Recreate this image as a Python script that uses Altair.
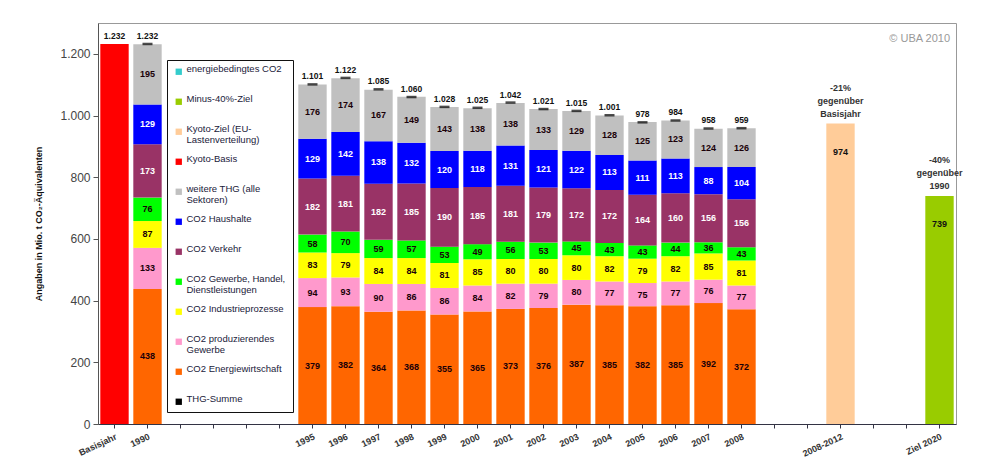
import altair as alt
import pandas as pd

# ---------------- data ----------------
categories = ["Basisjahr", "1990", " ", "  ", "   ", "    ",
              "1995", "1996", "1997", "1998", "1999", "2000", "2001",
              "2002", "2003", "2004", "2005", "2006", "2007", "2008",
              "     ", "      ", "2008-2012", "       ", "        ", "Ziel 2020"]

years = ["1990", "1995", "1996", "1997", "1998", "1999", "2000", "2001",
         "2002", "2003", "2004", "2005", "2006", "2007", "2008"]
energie = [438, 379, 382, 364, 368, 355, 365, 373, 376, 387, 385, 382, 385, 392, 372]
produzierend = [133, 94, 93, 90, 86, 86, 84, 82, 79, 80, 77, 75, 77, 76, 77]
industrie = [87, 83, 79, 84, 84, 81, 85, 80, 80, 80, 82, 79, 82, 85, 81]
gewerbe = [76, 58, 70, 59, 57, 53, 49, 56, 53, 45, 43, 43, 44, 36, 43]
verkehr = [173, 182, 181, 182, 185, 190, 185, 181, 179, 172, 172, 164, 160, 156, 156]
haushalte = [129, 129, 142, 138, 132, 120, 118, 131, 121, 122, 113, 111, 113, 88, 104]
weitere = [195, 176, 174, 167, 149, 143, 138, 138, 133, 129, 128, 125, 123, 124, 126]
thg_summe = [1232, 1101, 1122, 1085, 1060, 1028, 1025, 1042, 1021, 1015, 1001, 978, 984, 958, 959]

target_cats = ["Basisjahr", "2008-2012", "Ziel 2020"]
target_series = ["Kyoto-Basis", "Kyoto-Ziel (EU-|Lastenverteilung)", "Minus-40%-Ziel"]
target_values = [1232, 974, 739]
note_cats = ["2008-2012", "2008-2012", "2008-2012", "Ziel 2020", "Ziel 2020", "Ziel 2020"]
note_lines = ["-21%", "gegenüber", "Basisjahr", "-40%", "gegenüber", "1990"]
note_row = [2, 1, 0, 2, 1, 0]
note_base = [974, 974, 974, 739, 739, 739]

legend_names = ["energiebedingtes CO2", "Minus-40%-Ziel",
                "Kyoto-Ziel (EU-|Lastenverteilung)", "Kyoto-Basis",
                "weitere THG (alle|Sektoren)", "CO2 Haushalte", "CO2 Verkehr",
                "CO2 Gewerbe, Handel,|Dienstleistungen", "CO2 Industrieprozesse",
                "CO2 produzierendes|Gewerbe", "CO2 Energiewirtschaft", "THG-Summe"]
legend_colors = ["#33CCCC", "#99CC00", "#FFCC99", "#FF0000", "#C0C0C0", "#0000FF",
                 "#993366", "#00FF00", "#FFFF00", "#FF99CC", "#FF6600", "#000000"]

stack_series = ["CO2 Energiewirtschaft", "CO2 produzierendes|Gewerbe",
                "CO2 Industrieprozesse", "CO2 Gewerbe, Handel,|Dienstleistungen",
                "CO2 Verkehr", "CO2 Haushalte", "weitere THG (alle|Sektoren)"]
stack_values = [energie, produzierend, industrie, gewerbe, verkehr, haushalte, weitere]
light_text = [0, 0, 0, 0, 1, 1, 0]

# ---------------- tables ----------------
rows = []
for i, yr in enumerate(years):
    base = 0
    for s, vals, lt in zip(stack_series, stack_values, light_text):
        v = vals[i]
        rows.append({"cat": yr, "series": s, "y0": base, "y1": base + v,
                     "mid": base + v / 2, "value": v, "light": lt})
        base += v
for c, s, v in zip(target_cats, target_series, target_values):
    rows.append({"cat": c, "series": s, "y0": 0, "y1": v, "mid": v, "value": v, "light": 0})
bars_df = pd.DataFrame(rows)
seg_df = bars_df[bars_df["series"].isin(stack_series)]
seg_dark = seg_df[seg_df["light"] == 0].reset_index(drop=True)
seg_light = seg_df[seg_df["light"] == 1].reset_index(drop=True)

def de_fmt(v):
    return f"{v:,}".replace(",", ".")

tot_df = pd.DataFrame({"cat": years, "total": thg_summe})
lbl_df = pd.DataFrame({"cat": ["Basisjahr"] + years,
                       "total": [target_values[0]] + thg_summe,
                       "lbl": [de_fmt(target_values[0])] + [de_fmt(v) for v in thg_summe]})
tgt_df = pd.DataFrame({"cat": target_cats[1:], "val": target_values[1:]})
note_df = pd.DataFrame({"cat": note_cats, "line": note_lines, "row": note_row, "base": note_base})

FONT = "Liberation Sans"

x_enc = alt.X("cat:N",
              scale=alt.Scale(domain=categories, paddingInner=0.14, paddingOuter=0.07),
              axis=alt.Axis(title=None,
                            labelAngle=-25, labelAlign="right", labelBaseline="top",
                            labelFontSize=9, labelFontWeight="bold", labelColor="#333",
                            labelPadding=4, tickSize=4,
                            domainColor="#334", tickColor="#334", labelOverlap=False))
y_scale = alt.Scale(domain=[0, 1300], nice=False)
y_enc = alt.Y("y1:Q", scale=y_scale,
              axis=alt.Axis(title="Angaben in Mio. t CO₂-Äquivalenten",
                            tickCount=7, format=",d",
                            labelFontSize=12, labelColor="#444", grid=False, tickSize=5,
                            labelPadding=3, domainColor="#555", tickColor="#555",
                            titleFontSize=9, titleFontWeight="bold", titleColor="#111",
                            titlePadding=16))

legend = alt.Legend(title=None, orient="none", legendX=69, legendY=37, direction="vertical",
                    fillColor="white", strokeColor="#111", padding=7, symbolSize=40,
                    symbolType="square", labelFontSize=9.5, labelFont=FONT, labelColor="#1a1a3a",
                    labelLimit=140, labelExpr="split(datum.label, '|')",
                    labelBaseline="alphabetic", rowPadding=8, gridAlign="all",
                    labelOffset=3, symbolStrokeWidth=0)

bars = alt.Chart(bars_df).mark_bar().encode(
    x=x_enc, y=y_enc, y2="y0:Q",
    color=alt.Color("series:N", scale=alt.Scale(domain=legend_names, range=legend_colors),
                    legend=legend))

seg_text_dark = alt.Chart(seg_dark).mark_text(fontWeight="bold", fontSize=9, font=FONT,
                                              color="#1a0008").encode(
    x="cat:N", y="mid:Q", text="value:Q")
seg_text_light = alt.Chart(seg_light).mark_text(fontWeight="bold", fontSize=9, font=FONT,
                                                color="#FFFFFF").encode(
    x="cat:N", y="mid:Q", text="value:Q")

marks = alt.Chart(tot_df).mark_tick(color="black", thickness=2.5, size=10).encode(
    x="cat:N", y="total:Q")

tot_text = alt.Chart(lbl_df).mark_text(
    fontWeight="bold", fontSize=8.5, font=FONT, baseline="bottom", dy=-3, color="#111").encode(
    x="cat:N", y="total:Q", text="lbl:N")

tgt_val = alt.Chart(tgt_df).mark_text(fontWeight="bold", fontSize=9, font=FONT,
                                      baseline="middle", dy=28, color="#111").encode(
    x="cat:N", y="val:Q", text="val:Q")

note_layers = []
for r in [0, 1, 2]:
    note_layers.append(
        alt.Chart(note_df[note_df["row"] == r].reset_index(drop=True)).mark_text(
            fontWeight="bold", fontSize=9, font=FONT, baseline="bottom",
            dy=-5 - 13 * r, color="#333").encode(
            x="cat:N", y="base:Q", text="line:N"))

chart = alt.layer(bars, seg_text_dark, seg_text_light, marks, tot_text, tgt_val,
                  *note_layers).properties(
    width=858, height=401,
    padding={"left": 90, "top": 15, "right": 20, "bottom": 40},
    autosize=alt.AutoSizeParams(type="none"),
    title=alt.TitleParams("© UBA 2010", anchor="end", frame="group", offset=-21, dx=-6,
                          fontSize=11, fontWeight="normal", color="#999", font=FONT),
).configure(font=FONT).configure_view(stroke="#999", strokeWidth=1)

chart.save("out.html", embed_options={
    "renderer": "svg", "actions": False,
    "formatLocale": {"decimal": ",", "thousands": ".", "grouping": [3], "currency": ["", " €"]}})
